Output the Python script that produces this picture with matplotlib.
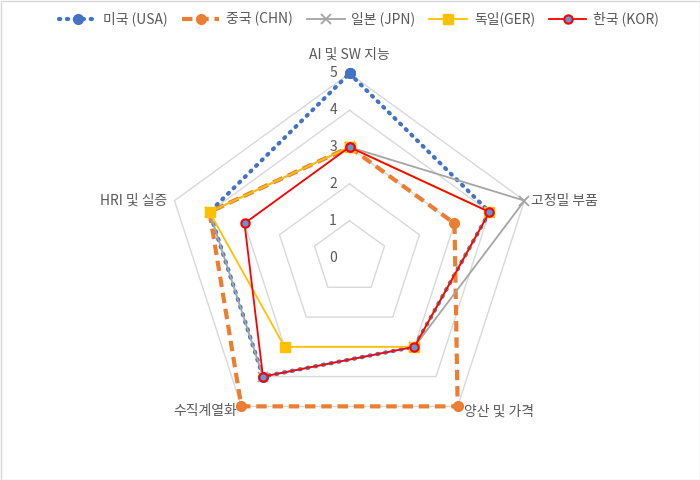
import numpy as np
import matplotlib
matplotlib.use("Agg")
import matplotlib.pyplot as plt
from matplotlib.patches import Rectangle

plt.rcParams['font.family'] = ['Noto Sans CJK KR', 'DejaVu Sans']

categories = ["AI 및 SW 지능", "고정밀 부품", "양산 및 가격", "수직계열화", "HRI 및 실증"]
series_names = ["미국 (USA)", "중국 (CHN)", "일본 (JPN)", "독일(GER)", "한국 (KOR)"]
usa = [5, 4, 3, 4, 4]
chn = [3, 3, 5, 5, 4]
jpn = [3, 5, 3, 4, 4]
ger = [3, 4, 3, 3, 4]
kor = [3, 4, 3, 4, 3]
ticks = [0, 1, 2, 3, 4, 5]

n = len(categories)
theta = np.pi / 2 - np.arange(n) * 2 * np.pi / n
theta_c = np.append(theta, theta[0])

W, H = 700, 480
fig = plt.figure(figsize=(7, 4.8), dpi=100)
cx, cy, R = 349.5, 257.5, 184.0
ax = fig.add_axes([(cx - R) / W, (H - cy - R) / H, 2 * R / W, 2 * R / H], projection='polar')
ax.set_ylim(0, 5)
ax.set_xticks([])
ax.set_yticks([])
ax.grid(False)
ax.spines['polar'].set_visible(False)
ax.patch.set_visible(False)

grid_col = '#D9D9D9'
for k in ticks[1:]:
    ax.plot(theta_c, [k] * (n + 1), color=grid_col, lw=1.0, zorder=1, clip_on=False)

txt_col = '#595959'
for k in ticks:
    ax.annotate(str(k), xy=(np.pi / 2, k), xytext=(-9, 0), textcoords='offset points',
                ha='right', va='center', fontsize=10, color=txt_col)

offsets = [((0, 13.5), 'center'), ((5, 0), 'left'), ((4.5, -3.5), 'left'),
           ((-3, -3.5), 'right'), ((-5, 0), 'right')]
for t, lab, (off, ha) in zip(theta, categories, offsets):
    ax.annotate(lab, xy=(t, 5), xytext=off, textcoords='offset points',
                ha=ha, va='center', fontsize=10, color=txt_col, annotation_clip=False)

styles = [
    dict(color='#4472C4', ls=(0, (0.3, 1.6)), lw=3.0, marker='o', ms=7, dash_capstyle='round'),
    dict(color='#ED7D31', ls=(0, (2.5, 1.4)), lw=3.0, marker='o', ms=7),
    dict(color='#A5A5A5', ls='-', lw=1.3, marker='x', ms=7, mew=1.3),
    dict(color='#FFC000', ls='-', lw=1.3, marker='s', ms=7),
    dict(color='#FF0000', ls='-', lw=1.3, marker='o', ms=6, mfc='#5B9BD5', mec='#FF0000', mew=1.5),
]
data = [usa, chn, jpn, ger, kor]
for name, vals, st in zip(series_names, data, styles):
    v = list(vals) + [vals[0]]
    ax.plot(theta_c, v, label=name, zorder=3, clip_on=False, **st)

fig.legend(loc='center', bbox_to_anchor=(0.513, 1 - 19 / H), ncol=5, frameon=False,
           fontsize=10, labelcolor=txt_col, handlelength=2.7, columnspacing=1.0,
           handletextpad=0.5)

fig.patches.append(Rectangle((0.5 / W, 0.5 / H), 1 - 1 / W, 1 - 1 / H, transform=fig.transFigure,
                             fill=False, edgecolor='#D9D9D9', lw=1))

fig.savefig('out.png', dpi=100, facecolor='white')
